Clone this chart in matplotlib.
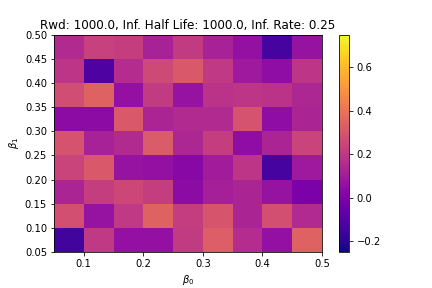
import numpy as np
import matplotlib
matplotlib.use('Agg')
import matplotlib.pyplot as plt

# bordes de las celdas
beta0 = [0.05, 0.10, 0.15, 0.20, 0.25, 0.30, 0.35, 0.40, 0.45, 0.50]
beta1 = [0.05, 0.10, 0.15, 0.20, 0.25, 0.30, 0.35, 0.40, 0.45, 0.50]

# valores, fila de abajo (beta1=0.05) hacia arriba
fila_005 = [-0.15, 0.20, 0.06, 0.06, 0.21, 0.33, 0.16, 0.06, 0.34]
fila_010 = [0.28, 0.07, 0.20, 0.34, 0.22, 0.30, 0.13, 0.28, 0.15]
fila_015 = [0.13, 0.22, 0.25, 0.22, 0.04, 0.11, 0.13, 0.07, -0.01]
fila_020 = [0.24, 0.31, 0.07, 0.06, 0.03, 0.10, 0.19, -0.14, 0.09]
fila_025 = [0.29, 0.12, 0.15, 0.32, 0.14, 0.22, 0.05, 0.13, 0.24]
fila_030 = [0.04, 0.04, 0.31, 0.13, 0.15, 0.15, 0.29, 0.05, 0.13]
fila_035 = [0.27, 0.34, 0.06, 0.21, 0.07, 0.18, 0.19, 0.18, 0.14]
fila_040 = [0.19, -0.12, 0.16, 0.26, 0.31, 0.20, 0.09, 0.05, 0.19]
fila_045 = [0.15, 0.23, 0.22, 0.12, 0.21, 0.12, 0.06, -0.14, 0.07]

valores = np.array([fila_005, fila_010, fila_015, fila_020, fila_025,
                    fila_030, fila_035, fila_040, fila_045])

fig = plt.figure(figsize=(6, 4), dpi=72)
fig.subplots_adjust(bottom=0.125)
ax = fig.add_subplot(111)
malla = ax.pcolormesh(beta0, beta1, valores, cmap='plasma', vmin=-0.25, vmax=0.75)
plt.colorbar(malla, ax=ax)
ax.set_yticks(beta1)
ax.set_xlabel(r'$\beta_0$')
ax.set_ylabel(r'$\beta_1$')
ax.set_title('Rwd: 1000.0, Inf. Half Life: 1000.0, Inf. Rate: 0.25')
fig.savefig('out.png', dpi=72)
